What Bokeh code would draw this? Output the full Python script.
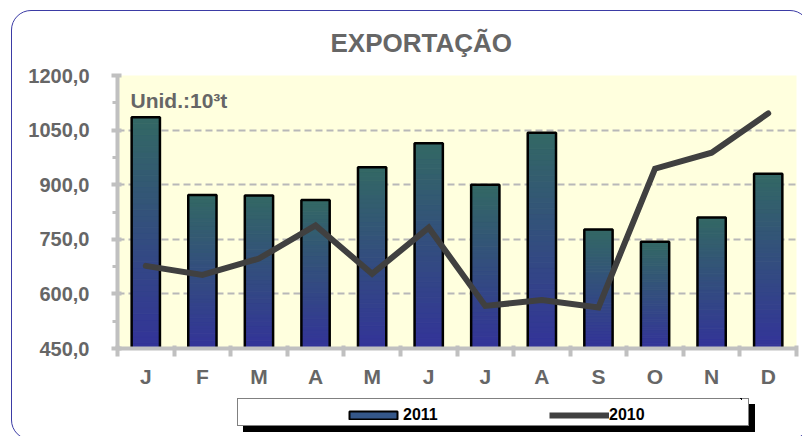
import numpy as np
from bokeh.plotting import figure
from bokeh.layouts import column
from bokeh.models import (ColumnDataSource, FixedTicker, Range1d, Legend, LegendItem,
                          Label, InlineStyleSheet)
from bokeh.embed import file_html
from bokeh.resources import INLINE

# ---- data ----
months = ["J", "F", "M", "A", "M", "J", "J", "A", "S", "O", "N", "D"]
exports_2011 = [1085, 872, 870, 858, 948, 1014, 900, 1043, 777, 743, 810, 930]
exports_2010 = [677, 652, 697, 788, 655, 782, 567, 583, 563, 944, 988, 1096]
y_ticks = [450, 600, 750, 900, 1050, 1200]
y_tick_labels = ["450,0", "600,0", "750,0", "900,0", "1050,0", "1200,0"]
title_text = "EXPORTAÇÃO"
unit_text = "Unid.:10³t"
series_names = ["2011", "2010"]

FONT = "Liberation Sans"
GRAY_TXT = "#666666"
AXIS_GRAY = "#c0c0c0"
BAR_LEGEND_FILL = "#34578a"
LINE_COLOR = "#404040"

y_min, y_max = y_ticks[0], y_ticks[-1]
xs = np.arange(len(months)) + 0.5

p = figure(width=802, height=436, output_backend="svg", toolbar_location=None,
           x_range=Range1d(0, len(months)), y_range=Range1d(y_min, y_max))
p.min_border_left = 117
p.min_border_right = 6
p.min_border_top = 75
p.min_border_bottom = 88
p.background_fill_color = "#ffffde"
p.border_fill_alpha = 0
p.outline_line_color = None

# ---- gradient bars (2011) ----
N = 40
c_bot = np.array([51, 51, 153])
c_top = np.array([51, 104, 100])
seg_x, seg_b, seg_t, seg_c = [], [], [], []
for x, v in zip(xs, exports_2011):
    for s in range(N):
        f0, f1 = s / N, (s + 1) / N
        seg_x.append(x)
        seg_b.append(y_min + (v - y_min) * f0)
        seg_t.append(y_min + (v - y_min) * f1)
        c = c_bot + (c_top - c_bot) * ((s + 0.5) / N)
        seg_c.append("#%02x%02x%02x" % tuple(int(round(k)) for k in c))
seg_src = ColumnDataSource(dict(x=seg_x, bottom=seg_b, top=seg_t, color=seg_c))
p.vbar(x="x", bottom="bottom", top="top", width=0.5, source=seg_src,
       fill_color="color", line_color="color", line_width=1)

bar_src = ColumnDataSource(dict(x=xs, top=exports_2011))
p.vbar(x="x", bottom=y_min, top="top", width=0.5, source=bar_src,
       fill_color=None, line_color="black", line_width=2.5)

# ---- line (2010) ----
line_src = ColumnDataSource(dict(x=xs, y=exports_2010))
p.line(x="x", y="y", source=line_src, line_color=LINE_COLOR, line_width=6,
       line_cap="round", line_join="miter")

# ---- axes ----
p.xaxis.ticker = FixedTicker(ticks=list(xs), minor_ticks=list(range(len(months) + 1)))
p.xaxis.major_label_overrides = {float(x): m for x, m in zip(xs, months)}
p.xaxis.major_tick_line_color = None
p.xaxis.major_tick_in = 0
p.xaxis.major_tick_out = 0
p.xaxis.minor_tick_line_color = AXIS_GRAY
p.xaxis.minor_tick_line_width = 4
p.xaxis.minor_tick_in = 3
p.xaxis.minor_tick_out = 8
p.xaxis.axis_line_color = AXIS_GRAY
p.xaxis.axis_line_width = 4
p.xaxis.major_label_standoff = 8
p.xaxis.major_label_text_font = FONT
p.xaxis.major_label_text_font_style = "bold"
p.xaxis.major_label_text_font_size = "21px"
p.xaxis.major_label_text_color = GRAY_TXT

minor_y = [(a + b) / 2 for a, b in zip(y_ticks[:-1], y_ticks[1:])]
p.yaxis.ticker = FixedTicker(ticks=y_ticks, minor_ticks=minor_y)
p.yaxis.major_label_overrides = {t: l for t, l in zip(y_ticks, y_tick_labels)}
p.yaxis.axis_line_color = AXIS_GRAY
p.yaxis.axis_line_width = 4
p.yaxis.major_tick_line_color = AXIS_GRAY
p.yaxis.major_tick_line_width = 4
p.yaxis.major_tick_in = 4
p.yaxis.major_tick_out = 6
p.yaxis.minor_tick_line_color = AXIS_GRAY
p.yaxis.minor_tick_line_width = 3
p.yaxis.minor_tick_in = 0
p.yaxis.minor_tick_out = 5
p.yaxis.major_label_standoff = 22
p.yaxis.major_label_text_font = FONT
p.yaxis.major_label_text_font_style = "bold"
p.yaxis.major_label_text_font_size = "20px"
p.yaxis.major_label_text_color = GRAY_TXT

p.xgrid.grid_line_color = None
p.ygrid.ticker = FixedTicker(ticks=y_ticks[1:-1])
p.ygrid.grid_line_color = "#b8b8b8"
p.ygrid.grid_line_width = 2
p.ygrid.grid_line_dash = "7 4"

# ---- title ----
p.title.text = title_text
p.title.align = "left"
p.title.offset = 213
p.title.standoff = 35
p.title.text_font = FONT
p.title.text_font_size = "26px"
p.title.text_font_style = "bold"
p.title.text_color = GRAY_TXT

p.add_layout(Label(x=0.23, y=1163, text=unit_text, text_baseline="top",
                   text_font=FONT, text_font_size="21px", text_font_style="bold",
                   text_color=GRAY_TXT))

# ---- legend: a transparent overlay figure holding a real Legend ----
# (its frame is aligned by the column to start 117px in, so it is shifted left by that)
lf = figure(width=627, height=26, output_backend="svg", toolbar_location=None,
            x_axis_type=None, y_axis_type=None,
            x_range=Range1d(-20, -19), y_range=Range1d(-20, -19),
            min_border=0, min_border_left=0, min_border_right=0,
            min_border_top=0, min_border_bottom=0,
            styles={"position": "absolute", "left": "120px", "top": "398px",
                    "z-index": "1"})
lf.background_fill_alpha = 0
lf.border_fill_alpha = 0
lf.outline_line_color = None
lf.grid.visible = False
# same series drawn outside this figure's ranges: only their legend swatches show
lf_bar = lf.vbar(x=xs, bottom=y_min, top=exports_2011, width=0.5,
                 fill_color=BAR_LEGEND_FILL, line_color="black", line_width=2)
lf_line = lf.line(x=xs, y=exports_2010, line_color=LINE_COLOR, line_width=6)
legend = Legend(items=[LegendItem(label=series_names[0], renderers=[lf_bar]),
                       LegendItem(label=series_names[1], renderers=[lf_line])],
                orientation="horizontal", location=(106, 0),
                padding=0, margin=0, spacing=6,
                glyph_width=60, glyph_height=10, label_standoff=0, label_width=140,
                label_text_font=FONT, label_text_font_style="bold",
                label_text_font_size="16px", label_text_color="black",
                border_line_color=None, background_fill_alpha=0)
lf.add_layout(legend)

# ---- page: rounded outer border and legend box with drop shadow on the wrapper ----
root = column(p, lf, stylesheets=[InlineStyleSheet(css="""
:host { position: relative; overflow: hidden; }
:host::before { content: ""; position: absolute; left: 11px; top: 10px;
  width: 797px; height: 428px; border: 1.5px solid #3b3ba5; border-radius: 20px;
  pointer-events: none; z-index: 2; }
:host::after { content: ""; position: absolute; left: 237px; top: 398px;
  width: 510px; height: 26px; background: white; border: 1px solid #808080;
  box-shadow: 6px 6px 0 0 #000; z-index: -1; pointer-events: none; }
""")])

open("out.html", "w").write(file_html(root, INLINE))
